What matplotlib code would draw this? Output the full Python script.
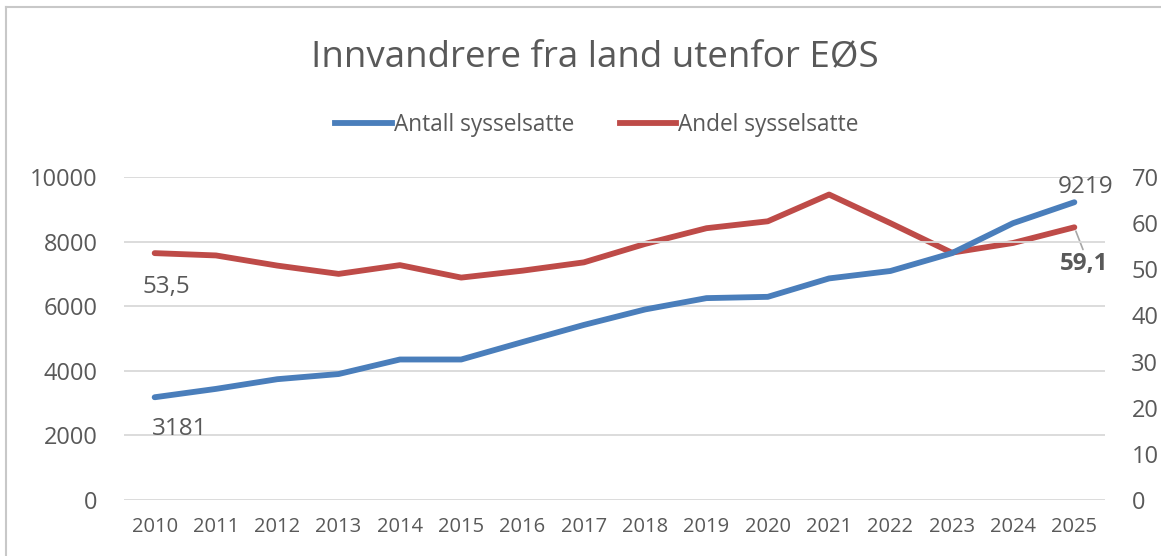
import matplotlib
matplotlib.use("Agg")
import matplotlib.pyplot as plt
from matplotlib.lines import Line2D

plt.rcParams['font.family'] = ['Open Sans', 'DejaVu Sans']

years = [str(y) for y in range(2010, 2026)]
antall = [3181, 3440, 3740, 3900, 4350, 4350, 4890, 5420, 5900, 6250, 6290, 6860, 7090, 7640, 8570, 9219]
andel = [53.5, 53.0, 50.8, 49.0, 50.9, 48.2, 49.7, 51.5, 55.5, 58.9, 60.4, 66.2, 60.0, 53.6, 55.7, 59.1]
left_ticks = [0, 2000, 4000, 6000, 8000, 10000]
right_ticks = [0, 10, 20, 30, 40, 50, 60, 70]

title = "Innvandrere fra land utenfor EØS"
blue = "#4a7ebb"
red = "#be4b48"
txt = "#595959"

W, H = 1161, 556
fig = plt.figure(figsize=(W / 100, H / 100), dpi=100)
ax = fig.add_axes([124 / W, 1 - 500 / H, (1105 - 124) / W, (500 - 177) / H])
ax2 = ax.twinx()

x = list(range(len(years)))
ax.plot(x, antall, color=blue, lw=4.2, solid_capstyle='round', zorder=3)
ax2.plot(x, andel, color=red, lw=4.2, solid_capstyle='round', zorder=3)

ax.set_xlim(-0.5, len(years) - 0.5)
ax.set_ylim(0, 10000)
ax2.set_ylim(0, 70)
ax.set_yticks(left_ticks)
ax2.set_yticks(right_ticks)
ax.set_xticks(x)
ax.set_xticklabels(years)
ax.grid(axis='y', color='#d9d9d9', lw=1.3)
ax.set_axisbelow(True)
for a in (ax, ax2):
    for s in a.spines.values():
        s.set_visible(False)
    a.tick_params(length=0)
ax.tick_params(axis='y', labelsize=17, labelcolor=txt, pad=19)
ax2.tick_params(axis='y', labelsize=17, labelcolor=txt, pad=19)
ax.tick_params(axis='x', labelsize=14.5, labelcolor=txt, pad=12)
ax.set_zorder(ax2.get_zorder() + 1)
ax.patch.set_visible(False)

# data labels
ax.annotate(f"{antall[0]}", (x[0], antall[0]), xytext=(-2, -14), textcoords='offset points',
            ha='left', va='top', fontsize=17.5, color=txt)
ax.annotate(f"{antall[-1]}", (x[-1], antall[-1]), xytext=(8, 2), textcoords='offset points',
            ha='center', va='bottom', fontsize=17.5, color=txt)
ax2.annotate(f"{andel[0]:.1f}".replace('.', ','), (x[0], andel[0]), xytext=(-9, -16), textcoords='offset points',
             ha='left', va='top', fontsize=17.5, color=txt)
ax2.annotate(f"{andel[-1]:.1f}".replace('.', ','), (x[-1], andel[-1]), xytext=(7, -18), textcoords='offset points',
             ha='center', va='top', fontsize=17.5, color=txt, fontweight='bold',
             arrowprops=dict(arrowstyle='-', color='#a6a6a6', lw=1.2, shrinkA=0, shrinkB=3,
                             relpos=(0.5, 1.0)))

fig.text(595 / W, 1 - 57 / H, title, ha='center', va='center', fontsize=26.5, color=txt)

handles = [Line2D([], [], color=blue, lw=4.2), Line2D([], [], color=red, lw=4.2)]
fig.legend(handles, ["Antall sysselsatte", "Andel sysselsatte"], loc='center',
           bbox_to_anchor=(597 / W, 1 - 125 / H), ncol=2, frameon=False, fontsize=16.3,
           labelcolor=txt, handlelength=2.5, handletextpad=0.1, columnspacing=2.0)

# outer border
fig.add_artist(Line2D([6 / W, 6 / W], [0, 1 - 7 / H], transform=fig.transFigure, color='#c8c8c8', lw=1.5))
fig.add_artist(Line2D([6 / W, 1], [1 - 7 / H, 1 - 7 / H], transform=fig.transFigure, color='#c8c8c8', lw=1.5))

fig.savefig("out.png", dpi=100, facecolor='white')
